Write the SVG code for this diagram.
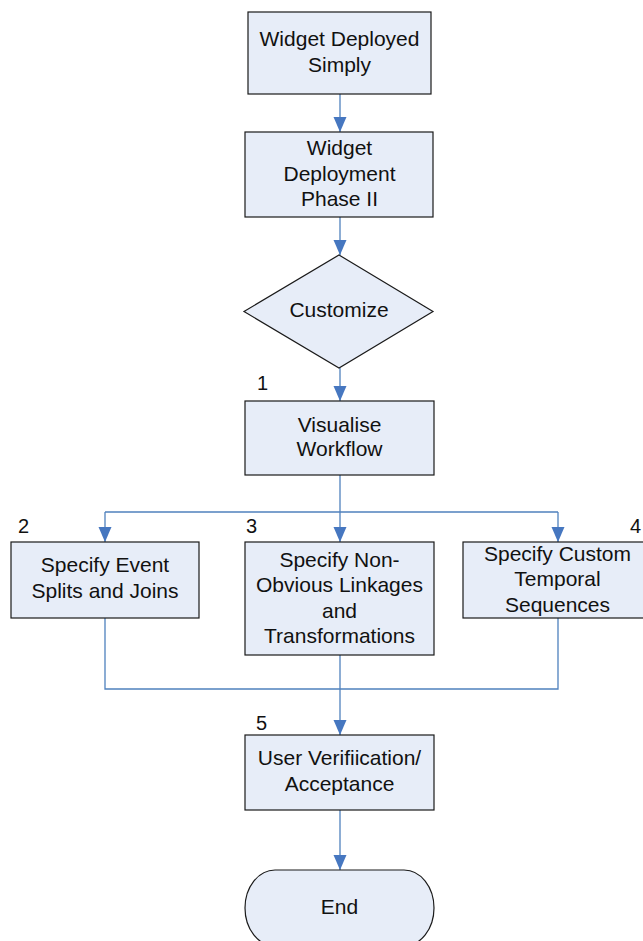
<svg xmlns="http://www.w3.org/2000/svg" width="643" height="941" viewBox="0 0 643 941">
  <style>
    .box { fill: #E7EDF8; stroke: #1a1a1a; stroke-width: 1.2; }
    .lbl { font-family: "Liberation Sans", Arial, sans-serif; font-size: 21px; fill: #111; text-anchor: middle; }
    .num { font-family: "Liberation Sans", Arial, sans-serif; font-size: 20px; fill: #111; }
    .conn { fill: none; stroke: #4F81BD; stroke-width: 1.3; }
  </style>
  <defs>
    <marker id="arrow" markerUnits="userSpaceOnUse" markerWidth="16" markerHeight="14" refX="15" refY="6.5" orient="auto">
      <path d="M0,0 L15,6.5 L0,13 z" fill="#4677C0"/>
    </marker>
  </defs>
  <rect width="643" height="941" fill="#ffffff"/>

  <!-- connectors -->
  <g id="connectors">
    <line class="conn" x1="340" y1="94" x2="340" y2="132" marker-end="url(#arrow)"/>
    <line class="conn" x1="340" y1="217" x2="340" y2="255" marker-end="url(#arrow)"/>
    <line class="conn" x1="340" y1="368" x2="340" y2="401" marker-end="url(#arrow)"/>
    <line class="conn" x1="340" y1="475" x2="340" y2="542" marker-end="url(#arrow)"/>
    <line class="conn" x1="105" y1="512" x2="558" y2="512"/>
    <line class="conn" x1="105" y1="512" x2="105" y2="542" marker-end="url(#arrow)"/>
    <line class="conn" x1="558" y1="512" x2="558" y2="542" marker-end="url(#arrow)"/>
    <polyline class="conn" points="105,618 105,689 558,689 558,618"/>
    <line class="conn" x1="340" y1="655" x2="340" y2="735" marker-end="url(#arrow)"/>
    <line class="conn" x1="340" y1="810" x2="340" y2="870" marker-end="url(#arrow)"/>
  </g>

  <g id="deployed">
    <rect class="box" x="248" y="12" width="183" height="82"/>
    <text class="lbl" x="339.5" y="45.5">Widget Deployed</text>
    <text class="lbl" x="339.5" y="71.5">Simply</text>
  </g>

  <g id="phase2">
    <rect class="box" x="245" y="132" width="188" height="85"/>
    <text class="lbl" x="339.5" y="155">Widget</text>
    <text class="lbl" x="339.5" y="180.5">Deployment</text>
    <text class="lbl" x="339.5" y="206">Phase II</text>
  </g>

  <g id="customize">
    <polygon class="box" points="339,255 433,311.5 339,368 244,311.5"/>
    <text class="lbl" x="339" y="317">Customize</text>
  </g>

  <g id="visualise">
    <text class="num" x="257" y="389.5">1</text>
    <rect class="box" x="245" y="401" width="189" height="74"/>
    <text class="lbl" x="339.5" y="431.5">Visualise</text>
    <text class="lbl" x="339.5" y="456">Workflow</text>
  </g>

  <g id="splits">
    <text class="num" x="18" y="533">2</text>
    <rect class="box" x="11" y="542" width="188" height="76"/>
    <text class="lbl" x="105" y="571.5">Specify Event</text>
    <text class="lbl" x="105" y="598">Splits and Joins</text>
  </g>

  <g id="linkages">
    <text class="num" x="246" y="533">3</text>
    <rect class="box" x="245" y="542" width="189" height="113"/>
    <text class="lbl" x="339.5" y="566.5">Specify Non-</text>
    <text class="lbl" x="339.5" y="591.5">Obvious Linkages</text>
    <text class="lbl" x="339.5" y="617.5">and</text>
    <text class="lbl" x="339.5" y="642.5">Transformations</text>
  </g>

  <g id="temporal">
    <text class="num" x="630" y="533">4</text>
    <rect class="box" x="463" y="542" width="189" height="76"/>
    <text class="lbl" x="557.5" y="560.5">Specify Custom</text>
    <text class="lbl" x="557.5" y="585.5">Temporal</text>
    <text class="lbl" x="557.5" y="611.5">Sequences</text>
  </g>

  <g id="verification">
    <text class="num" x="256" y="730">5</text>
    <rect class="box" x="245" y="735" width="189" height="75"/>
    <text class="lbl" x="339.5" y="765">User Verifiication/</text>
    <text class="lbl" x="339.5" y="790.5">Acceptance</text>
  </g>

  <g id="end">
    <rect class="box" x="245" y="870" width="189" height="76" rx="30" ry="38"/>
    <text class="lbl" x="339.5" y="914">End</text>
  </g>
</svg>
